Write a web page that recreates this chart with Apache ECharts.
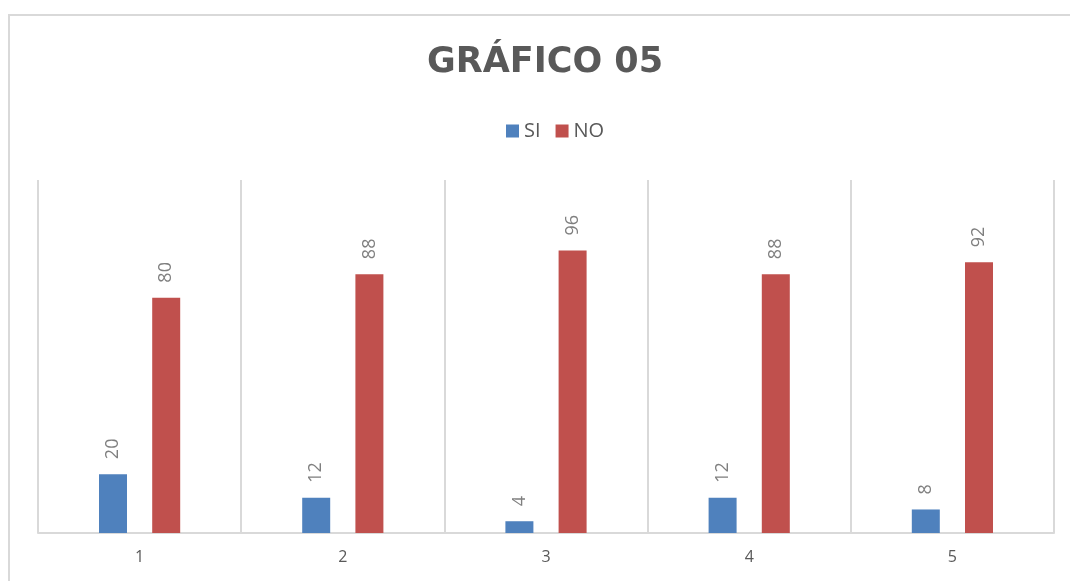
<!DOCTYPE html>
<html>
<head>
<meta charset="utf-8">
<title>GRÁFICO 05</title>
<script src="https://cdn.jsdelivr.net/npm/echarts@6/dist/echarts.min.js"></script>
<style>
  html, body { margin: 0; padding: 0; background: #fff; }
  #chart { width: 1070px; height: 581px; }
</style>
</head>
<body>
<div id="chart"></div>
<script>
// datos del gráfico
const categories = ["1", "2", "3", "4", "5"];
const siValues = [20, 12, 4, 12, 8];
const noValues = [80, 88, 96, 88, 92];

const myChart = echarts.init(document.getElementById("chart"));

const labelStyle = {
  show: true,
  position: "top",
  rotate: 90,
  align: "left",
  verticalAlign: "middle",
  distance: 15,
  fontFamily: "Open Sans",
  fontSize: 18,
  color: "#7f7f7f",
};

const option = {
  backgroundColor: "#fff",
  title: {
    text: "GRÁFICO 05",
    left: 422,
    top: 40,
    textStyle: {
      fontFamily: "DejaVu Sans",
      fontWeight: "bold",
      fontSize: 35,
      color: "#595959",
    },
  },
  legend: {
    top: 116,
    left: 501,
    itemWidth: 13,
    itemHeight: 13,
    itemGap: 15,
    icon: "rect",
    textStyle: {
      fontFamily: "Open Sans",
      fontSize: 20,
      color: "#595959",
    },
    data: ["SI", "NO"],
  },
  grid: {
    left: 38,
    right: 16,
    top: 180,
    bottom: 48,
    containLabel: false,
  },
  xAxis: {
    type: "category",
    data: categories,
    boundaryGap: true,
    axisLine: { show: true, lineStyle: { color: "#d9d9d9", width: 2 } },
    axisTick: { show: false },
    axisLabel: {
      margin: 16,
      fontFamily: "Open Sans",
      fontSize: 16,
      color: "#595959",
    },
    splitLine: {
      show: true,
      interval: 0,
      lineStyle: { color: "#d9d9d9", width: 2 },
    },
  },
  yAxis: {
    type: "value",
    min: 0,
    max: 120,
    show: false,
    splitLine: { show: false },
  },
  graphic: [
    {
      type: "rect",
      shape: { x: 9, y: 15, width: 1100, height: 700 },
      style: { fill: null, stroke: "#d9d9d9", lineWidth: 2 },
      silent: true,
    },
  ],
  series: [
    {
      name: "SI",
      type: "bar",
      barWidth: 28,
      barGap: "90%",
      itemStyle: { color: "#4f81bd" },
      label: labelStyle,
      data: siValues,
    },
    {
      name: "NO",
      type: "bar",
      barWidth: 28,
      barGap: "90%",
      itemStyle: { color: "#c0504d" },
      label: labelStyle,
      data: noValues,
    },
  ],
};

myChart.setOption(option);
</script>
</body>
</html>
